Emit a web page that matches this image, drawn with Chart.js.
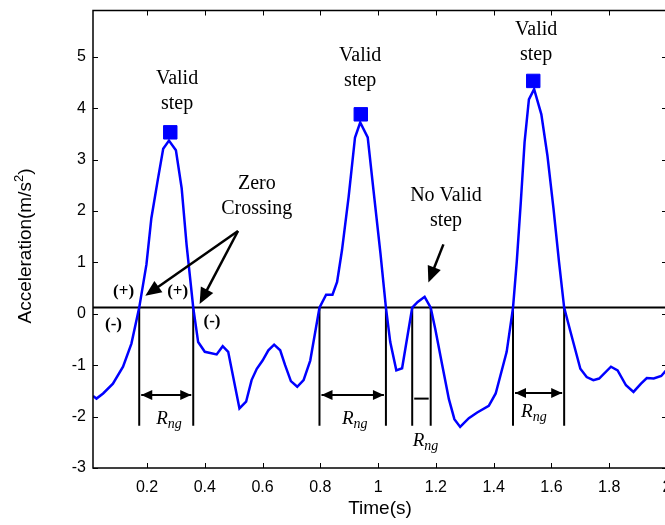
<!DOCTYPE html>
<html>
<head>
<meta charset="utf-8">
<script src="https://cdn.jsdelivr.net/npm/chart.js@4/dist/chart.umd.min.js"></script>
<style>
    html, body { margin: 0; padding: 0; background: #fff; overflow: hidden; }
    #wrap { width: 665px; height: 525px; overflow: hidden; }
    canvas { display: block; }
</style>
</head>
<body>
<div id="wrap"><canvas id="stepChart" width="680" height="525"></canvas></div>
<script>
// Vertical acceleration trace (m/s^2) against time (s)
const timeS = [
    0.013, 0.025, 0.048, 0.082, 0.117, 0.146, 0.173, 0.198, 0.215, 0.238,
    0.256, 0.276, 0.300, 0.320, 0.337, 0.360, 0.377, 0.400, 0.441, 0.462,
    0.481, 0.520, 0.543, 0.562, 0.580, 0.600, 0.620, 0.640, 0.661, 0.678,
    0.698, 0.720, 0.742, 0.765, 0.797, 0.820, 0.842, 0.858, 0.875, 0.898,
    0.920, 0.938, 0.964, 0.984, 1.008, 1.027, 1.042, 1.063, 1.083, 1.118,
    1.137, 1.161, 1.182, 1.198, 1.222, 1.245, 1.264, 1.284, 1.314, 1.343,
    1.383, 1.407, 1.445, 1.467, 1.480, 1.494, 1.507, 1.522, 1.540, 1.565,
    1.586, 1.607, 1.626, 1.644, 1.665, 1.700, 1.722, 1.745, 1.765, 1.806,
    1.829, 1.858, 1.884, 1.910, 1.930, 1.954, 1.980, 2.000
];
const accel = [
    -1.60, -1.65, -1.55, -1.36, -1.03, -0.58, 0.12, 0.96, 1.86, 2.63,
    3.21, 3.37, 3.18, 2.44, 1.34, 0.12, -0.55, -0.74, -0.79, -0.63,
    -0.74, -1.84, -1.71, -1.29, -1.07, -0.91, -0.71, -0.60, -0.71, -1.00,
    -1.31, -1.42, -1.29, -0.91, 0.12, 0.37, 0.37, 0.62, 1.24, 2.28,
    3.43, 3.72, 3.43, 2.40, 1.18, 0.12, -0.55, -1.10, -1.06, 0.12,
    0.23, 0.33, 0.12, -0.30, -1.00, -1.66, -2.05, -2.20, -2.03, -1.92,
    -1.79, -1.55, -0.74, 0.12, 1.02, 2.18, 3.34, 4.17, 4.37, 3.88,
    3.08, 2.05, 1.02, 0.12, -0.33, -1.07, -1.23, -1.29, -1.26, -1.03,
    -1.10, -1.39, -1.52, -1.36, -1.25, -1.26, -1.21, -1.08
];

// detection threshold and the crossings of it
const threshold = 0.12;
const crossT = [0.173, 0.360, 0.797, 1.027, 1.118, 1.182, 1.467, 1.644];
const crossFloor = -2.18;

// detected step peaks
const peakT = [0.2805, 0.940, 1.537];
const peakA = [3.53, 3.88, 4.53];

const xTicks = [0.2, 0.4, 0.6, 0.8, 1, 1.2, 1.4, 1.6, 1.8, 2];
const yTicks = [-3, -2, -1, 0, 1, 2, 3, 4, 5];
const xMin = 0.013, xMax = 2.0, yMin = -3, yMax = 5.9;

// R_ng spans between crossings
const spans = [
    { from: 0.173, to: 0.360, y: -1.58, heads: true },
    { from: 0.797, to: 1.027, y: -1.58, heads: true },
    { from: 1.118, to: 1.182, y: -1.65, heads: false },
    { from: 1.467, to: 1.644, y: -1.54, heads: true }
];
const spanLabels = [
    { t: 0.276, y: -2.15 },
    { t: 0.919, y: -2.15 },
    { t: 1.164, y: -2.57 },
    { t: 1.539, y: -2.01 }
];

// callout text blocks (centre of block, in data units)
const notes = [
    { lines: ['Valid', 'step'], t: 0.304, y: 4.33 },
    { lines: ['Valid', 'step'], t: 0.938, y: 4.78 },
    { lines: ['Valid', 'step'], t: 1.547, y: 5.29 },
    { lines: ['Zero', 'Crossing'], t: 0.580, y: 2.29 },
    { lines: ['No Valid', 'step'], t: 1.235, y: 2.05 }
];
const signs = [
    { text: '(+)', t: 0.119, y: 0.44 },
    { text: '(+)', t: 0.306, y: 0.44 },
    { text: '(-)', t: 0.084, y: -0.21 },
    { text: '(-)', t: 0.425, y: -0.16 }
];
const pointers = [
    { t0: 0.515, y0: 1.61, t1: 0.194, y1: 0.35 },
    { t0: 0.515, y0: 1.61, t1: 0.382, y1: 0.19 },
    { t0: 1.226, y0: 1.35, t1: 1.174, y1: 0.61 }
];

const SERIF = '"Liberation Serif", "Times New Roman", serif';
const SANS = '"Liberation Sans", Arial, sans-serif';

function arrowHead(ctx, x, y, dx, dy, len, half) {
    const d = Math.hypot(dx, dy);
    const ux = dx / d, uy = dy / d;
    ctx.beginPath();
    ctx.moveTo(x, y);
    ctx.lineTo(x - ux * len - uy * half, y - uy * len + ux * half);
    ctx.lineTo(x - ux * len + uy * half, y - uy * len - ux * half);
    ctx.closePath();
    ctx.fill();
}

const decorations = {
    id: 'decorations',
    afterDatasetsDraw(chart) {
        const ctx = chart.ctx;
        const xs = chart.scales.x, ys = chart.scales.y;
        const area = chart.chartArea;
        const px = v => xs.getPixelForValue(v);
        const py = v => ys.getPixelForValue(v);
        ctx.save();
        ctx.strokeStyle = '#000';
        ctx.fillStyle = '#000';

        // axes box with inward ticks
        ctx.lineWidth = 1.5;
        ctx.strokeRect(area.left, area.top, area.right - area.left, area.bottom - area.top);
        ctx.lineWidth = 1;
        ctx.beginPath();
        xTicks.forEach(v => {
            const x = Math.round(px(v)) + 0.5;
            ctx.moveTo(x, area.bottom); ctx.lineTo(x, area.bottom - 5);
            ctx.moveTo(x, area.top); ctx.lineTo(x, area.top + 5);
        });
        yTicks.forEach(v => {
            const y = Math.round(py(v)) + 0.5;
            ctx.moveTo(area.left, y); ctx.lineTo(area.left + 5, y);
            ctx.moveTo(area.right, y); ctx.lineTo(area.right - 5, y);
        });
        ctx.stroke();

        // R_ng span markers
        ctx.lineWidth = 2;
        spans.forEach(s => {
            const a = px(s.from) + 2, b = px(s.to) - 2, y = py(s.y);
            ctx.beginPath();
            ctx.moveTo(a, y); ctx.lineTo(b, y);
            ctx.stroke();
            if (s.heads) {
                arrowHead(ctx, a, y, -1, 0, 11, 5);
                arrowHead(ctx, b, y, 1, 0, 11, 5);
            }
        });
        spanLabels.forEach(l => {
            ctx.font = 'italic 19px ' + SERIF;
            const wR = ctx.measureText('R').width;
            ctx.font = 'italic 14px ' + SERIF;
            const wS = ctx.measureText('ng').width;
            const x0 = px(l.t) - (wR + wS) / 2, y0 = py(l.y);
            ctx.textAlign = 'left';
            ctx.textBaseline = 'alphabetic';
            ctx.font = 'italic 19px ' + SERIF;
            ctx.fillText('R', x0, y0);
            ctx.font = 'italic 14px ' + SERIF;
            ctx.fillText('ng', x0 + wR, y0 + 4);
        });

        // pointer arrows
        ctx.lineWidth = 2.5;
        pointers.forEach(p => {
            const x0 = px(p.t0), y0 = py(p.y0), x1 = px(p.t1), y1 = py(p.y1);
            const d = Math.hypot(x1 - x0, y1 - y0);
            const ex = x1 - (x1 - x0) / d * 12, ey = y1 - (y1 - y0) / d * 12;
            ctx.beginPath();
            ctx.moveTo(x0, y0); ctx.lineTo(ex, ey);
            ctx.stroke();
            arrowHead(ctx, x1, y1, x1 - x0, y1 - y0, 16, 7);
        });

        // callout text
        ctx.textAlign = 'center';
        ctx.textBaseline = 'middle';
        ctx.font = '20px ' + SERIF;
        notes.forEach(n => {
            const cx = px(n.t), cy = py(n.y);
            const lh = 25;
            n.lines.forEach((line, i) => {
                ctx.fillText(line, cx, cy + (i - (n.lines.length - 1) / 2) * lh);
            });
        });
        ctx.font = 'bold 17px ' + SERIF;
        signs.forEach(s => ctx.fillText(s.text, px(s.t), py(s.y)));

        // y-axis title with superscript
        ctx.translate(26, 246);
        ctx.rotate(-Math.PI / 2);
        ctx.font = '19px ' + SANS;
        const partA = 'Acceleration(m/s', partC = ')';
        const wA = ctx.measureText(partA).width, wC = ctx.measureText(partC).width;
        ctx.font = '13px ' + SANS;
        const wB = ctx.measureText('2').width;
        let x = -(wA + wB + wC) / 2;
        ctx.textAlign = 'left';
        ctx.textBaseline = 'middle';
        ctx.font = '19px ' + SANS;
        ctx.fillText(partA, x, 0);
        ctx.font = '13px ' + SANS;
        ctx.fillText('2', x + wA, -7);
        ctx.font = '19px ' + SANS;
        ctx.fillText(partC, x + wA + wB, 0);
        ctx.restore();
    }
};

const curvePoints = timeS.map((t, i) => ({ x: t, y: accel[i] }));
const crossLines = crossT.map(t => ({
    type: 'line',
    data: [{ x: t, y: threshold }, { x: t, y: crossFloor }],
    borderColor: '#000',
    borderWidth: 2,
    pointRadius: 0,
    order: 2
}));

new Chart(document.getElementById('stepChart'), {
    type: 'line',
    data: {
        datasets: [
            {
                type: 'scatter',
                data: peakT.map((t, i) => ({ x: t, y: peakA[i] })),
                pointStyle: 'rect',
                pointRadius: 9.5,
                backgroundColor: '#0000ff',
                borderColor: '#0000ff',
                borderWidth: 1,
                order: 0
            },
            {
                data: curvePoints,
                borderColor: '#0000ff',
                borderWidth: 2.5,
                pointRadius: 0,
                tension: 0,
                order: 1
            },
            {
                data: [{ x: xMin, y: threshold }, { x: xMax, y: threshold }],
                borderColor: '#000',
                borderWidth: 2,
                pointRadius: 0,
                order: 2
            },
            ...crossLines
        ]
    },
    options: {
        responsive: false,
        animation: false,
        devicePixelRatio: 1,
        layout: { padding: { left: 0, top: 6.3, right: 13, bottom: 0 } },
        plugins: {
            legend: { display: false },
            tooltip: { enabled: false }
        },
        scales: {
            x: {
                type: 'linear',
                min: xMin,
                max: xMax,
                afterBuildTicks: s => { s.ticks = xTicks.map(v => ({ value: v })); },
                afterFit: s => { s.height = 57; s.paddingLeft = 0; s.paddingRight = 0; },
                grid: { display: false, drawTicks: false },
                border: { display: false },
                ticks: {
                    padding: 10,
                    color: '#000',
                    font: { family: SANS, size: 16 },
                    maxRotation: 0,
                    callback: v => String(v)
                },
                title: {
                    display: true,
                    text: 'Time(s)',
                    color: '#000',
                    font: { family: SANS, size: 19 },
                    padding: { top: 0, bottom: 5 }
                }
            },
            y: {
                type: 'linear',
                min: yMin,
                max: yMax,
                afterBuildTicks: s => { s.ticks = yTicks.map(v => ({ value: v })); },
                afterFit: s => { s.width = 93; s.paddingTop = 0; s.paddingBottom = 0; },
                grid: { display: false, drawTicks: false },
                border: { display: false },
                ticks: {
                    padding: 7,
                    color: '#000',
                    font: { family: SANS, size: 16 },
                    callback: v => String(v)
                }
            }
        }
    },
    plugins: [decorations]
});
</script>
</body>
</html>
